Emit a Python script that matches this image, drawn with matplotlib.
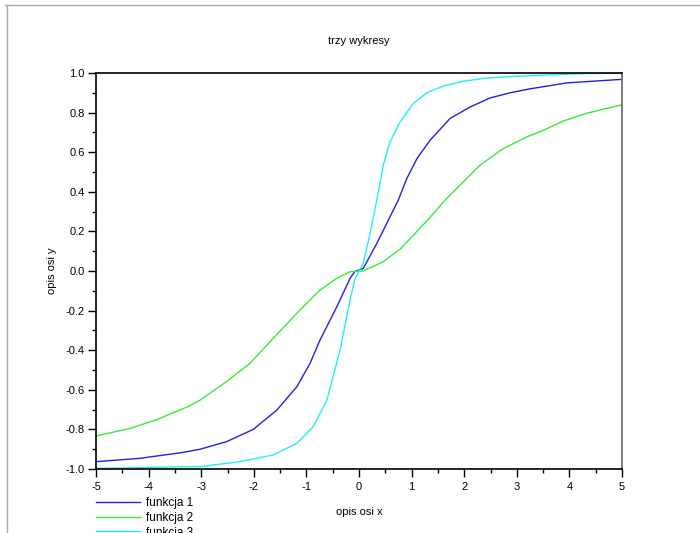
import matplotlib
matplotlib.use("Agg")
import matplotlib.pyplot as plt
from matplotlib.lines import Line2D
from matplotlib.ticker import MultipleLocator, FormatStrFormatter

plt.rcParams['font.family'] = ['Liberation Sans', 'DejaVu Sans']
plt.rcParams['axes.unicode_minus'] = False

# values
x1 = [-5, -4.16, -3.34, -3.02, -2.52, -2.01, -1.56, -1.18, -0.93, -0.74, -0.42, -0.17,
      -0.08, 0.08, 0.34, 0.59, 0.75, 0.907, 1.10, 1.35, 1.73, 2.11, 2.49, 2.87, 3.25,
      3.95, 5.0]
y1 = [-0.963, -0.946, -0.916, -0.90, -0.862, -0.80, -0.702, -0.584, -0.466, -0.348,
      -0.18, -0.037, -0.003, 0.013, 0.14, 0.274, 0.36, 0.466, 0.567, 0.66, 0.77, 0.828,
      0.874, 0.90, 0.92, 0.95, 0.968]

x2 = [-5, -4.35, -3.84, -3.21, -3.02, -2.52, -2.07, -1.66, -1.06, -0.74, -0.42, -0.17,
      0.08, 0.46, 0.78, 1.03, 1.35, 1.60, 1.92, 2.30, 2.74, 3.19, 3.50, 3.88, 4.32, 5.0]
y2 = [-0.833, -0.795, -0.75, -0.68, -0.652, -0.559, -0.466, -0.348, -0.18, -0.096,
      -0.037, -0.003, 0.0, 0.047, 0.11, 0.18, 0.27, 0.348, 0.433, 0.534, 0.618, 0.677,
      0.71, 0.757, 0.796, 0.84]

x3 = [-5, -3.54, -3.02, -2.26, -1.63, -1.18, -0.87, -0.61, -0.46, -0.36, -0.17, -0.08,
      0.08, 0.21, 0.34, 0.46, 0.59, 0.78, 1.03, 1.29, 1.60, 1.98, 2.43, 3.12, 4.26, 5.0]
y3 = [-0.997, -0.99, -0.988, -0.963, -0.929, -0.87, -0.786, -0.652, -0.50, -0.40,
      -0.146, -0.045, 0.04, 0.19, 0.36, 0.534, 0.652, 0.753, 0.845, 0.90, 0.934, 0.958,
      0.975, 0.985, 0.997, 1.0]

labels = ["funkcja 1", "funkcja 2", "funkcja 3"]
colors = ["#2020e0", "#33ee33", "#22eeee"]

fig = plt.figure(figsize=(7.0, 5.33), dpi=100)
ax = fig.add_axes([96/700, 1 - 469/533, (622-96)/700, (469-73)/533])

ax.plot(x1, y1, color=colors[0], lw=1.0, label=labels[0])
ax.plot(x2, y2, color=colors[1], lw=1.0, label=labels[1])
ax.plot(x3, y3, color=colors[2], lw=1.0, label=labels[2])

ax.set_xlim(-5, 5)
ax.set_ylim(-1, 1)
ax.xaxis.set_major_locator(MultipleLocator(1))
ax.xaxis.set_minor_locator(MultipleLocator(0.5))
ax.yaxis.set_major_locator(MultipleLocator(0.2))
ax.yaxis.set_minor_locator(MultipleLocator(0.1))
ax.yaxis.set_major_formatter(FormatStrFormatter('%.1f'))
ax.tick_params(which='major', direction='out', length=6, width=1, labelsize=8)
ax.tick_params(which='minor', direction='out', length=3, width=1)
ax.tick_params(axis='x', pad=3)
ax.tick_params(axis='y', pad=2)
ax.spines['right'].set_color('#666666')
for s in ax.spines.values():
    s.set_linewidth(1.2)

ax.set_title("trzy wykresy", fontsize=8, pad=21)
ax.set_xlabel("opis osi x", fontsize=8, labelpad=11)
ax.set_ylabel("opis osi y", fontsize=8, labelpad=6)

fig.legend(loc='upper left', bbox_to_anchor=(91/700, 1 - 492/533), frameon=False,
           fontsize=8.5, handlelength=3.75, handletextpad=0.55, labelspacing=0.25,
           borderaxespad=0)

# grey window frame
fig.add_artist(Line2D([5/700, 1], [1 - 5/533, 1 - 5/533], color='#aaaaaa', lw=1,
                      transform=fig.transFigure))
fig.add_artist(Line2D([7/700, 7/700], [0, 1 - 5/533], color='#aaaaaa', lw=1,
                      transform=fig.transFigure))

fig.savefig("out.png", dpi=100)
